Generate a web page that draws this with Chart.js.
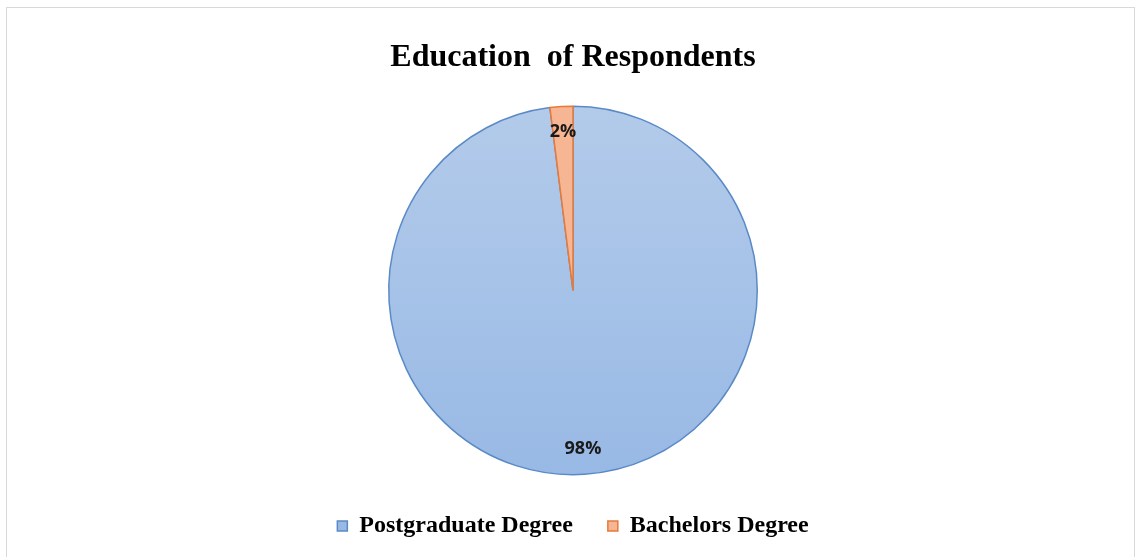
<!DOCTYPE html>
<html>
<head>
<meta charset="utf-8">
<script src="https://cdn.jsdelivr.net/npm/chart.js@4.4.1/dist/chart.umd.min.js"></script>
<style>
    html, body { margin: 0; padding: 0; background: #fff; }
    #wrap { width: 1139px; height: 557px; position: relative; }
</style>
</head>
<body>
<div id="wrap"><canvas id="eduChart" width="1139" height="557"></canvas></div>
<script>
const categories = ["Postgraduate Degree", "Bachelors Degree"];
const shares = [98, 2];
const chartTitle = "Education  of Respondents";
const borderColors = ["#5a8ac6", "#e8793a"];

// faint frame round the whole chart, like the office export
const framePlugin = {
    id: "frame",
    beforeDraw(chart) {
        const c = chart.ctx;
        c.save();
        c.fillStyle = "#fff";
        c.fillRect(0, 0, chart.width, chart.height);
        c.strokeStyle = "#d9d9d9";
        c.lineWidth = 1;
        c.strokeRect(6.5, 7.5, 1128, 560);
        c.restore();
    }
};

// percent labels inside each slice
const sliceLabels = {
    id: "sliceLabels",
    afterDatasetsDraw(chart) {
        const c = chart.ctx;
        const meta = chart.getDatasetMeta(0);
        c.save();
        c.font = "bold 18px 'Open Sans'";
        c.fillStyle = "#1a1a1a";
        c.textAlign = "center";
        c.textBaseline = "middle";
        meta.data.forEach((arc, i) => {
            const p = arc.getProps(["x", "y", "startAngle", "endAngle", "outerRadius"], true);
            const mid = (p.startAngle + p.endAngle) / 2;
            const r = p.outerRadius * 0.86;
            c.fillText(shares[i] + "%", p.x + Math.cos(mid) * r, p.y + Math.sin(mid) * r);
        });
        c.restore();
    }
};

function sliceFill(context) {
    if (context.dataIndex === 1) return "#f7b693";
    const area = context.chart.chartArea;
    if (!area) return "#a6c3e8";
    const g = context.chart.ctx.createLinearGradient(0, area.top, 0, area.bottom);
    g.addColorStop(0, "#b3cbea");
    g.addColorStop(1, "#98b9e5");
    return g;
}

new Chart(document.getElementById("eduChart"), {
    type: "pie",
    data: {
        labels: categories,
        datasets: [{
            data: shares,
            backgroundColor: sliceFill,
            borderColor: borderColors,
            borderWidth: 1.5
        }]
    },
    options: {
        responsive: false,
        animation: false,
        layout: { padding: { top: 0, bottom: 9, left: 7 } },
        plugins: {
            title: {
                display: true,
                text: chartTitle,
                color: "#000",
                font: { family: "'Liberation Serif'", size: 32, weight: "bold" },
                padding: { top: 39, bottom: 28 }
            },
            legend: {
                position: "bottom",
                // empty legend title only used as a small spacer above the items
                title: { display: true, text: " ", font: { size: 3 }, padding: 0 },
                labels: {
                    color: "#000",
                    boxWidth: 10,
                    boxHeight: 10,
                    padding: 35,
                    font: { family: "'Liberation Serif'", size: 24, weight: "bold" }
                }
            },
            tooltip: { enabled: false }
        }
    },
    plugins: [framePlugin, sliceLabels]
});
</script>
</body>
</html>
